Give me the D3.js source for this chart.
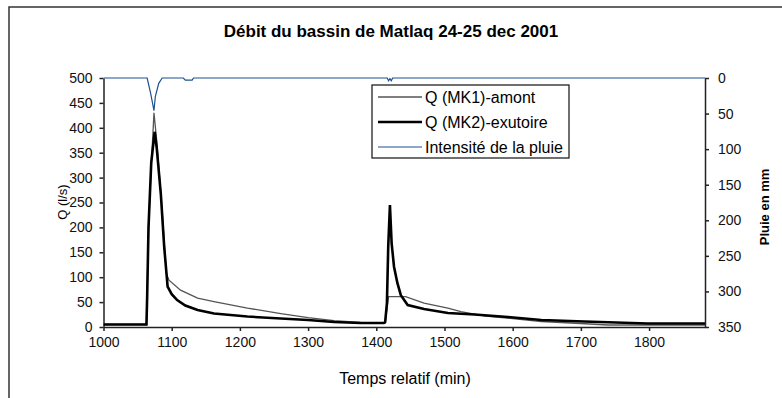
<!DOCTYPE html>
<html><head><meta charset="utf-8">
<script src="https://cdn.jsdelivr.net/npm/d3@7"></script>
<style>body{margin:0;background:#fff;}svg{display:block;font-family:"Liberation Sans",Arial,sans-serif;}</style>
</head><body><svg id="c" width="782" height="398"></svg>
<script>
const title = "Débit du bassin de Matlaq 24-25 dec 2001";
const xTicks = [1000,1100,1200,1300,1400,1500,1600,1700,1800];
const yLeftTicks = [0,50,100,150,200,250,300,350,400,450,500];
const yRightTicks = [0,50,100,150,200,250,300,350];
const seriesNames = ["Q (MK1)-amont","Q (MK2)-exutoire","Intensité de la pluie"];

const mk1Time = [1000,1063,1066,1070,1074,1078,1086,1092,1096,1113,1138,1162,1211,1260,1300,1338,1377,1411,1413,1418,1443,1470,1505,1524,1560,1600,1642,1700,1740,1800,1882];
const mk1Q    = [5,5,201,322,430,375,235,108,94,74,58,51,38,27,19,13,9,8,8,61,61,48,38,31,22,17,11,7,4,4,4];

const mk2Time = [1000,1063,1064,1066,1070,1075,1078,1084,1089,1094,1100,1108,1120,1138,1162,1211,1260,1300,1338,1377,1411,1413,1415.6,1417.5,1420,1422.5,1426,1431,1436,1446,1470,1505,1544,1593,1642,1705,1798,1882];
const mk2Q    = [5,5,60,200,330,392,360,268,161,81,66,54,43,34,27,21,17,14,10,8,8,10,48,161,245,168,121,88,64,44,36,28,25,20,14,11,7,7];

const rainTime = [1000,1064,1069,1074,1076,1081,1086,1117,1120,1130,1132,1416,1418,1420,1422,1424,1882];
const rainMm   = [0,0,21,46,26,7.5,0,0,3,3,0,0,4,1,4,0,0];

const svg = d3.select("#c");
const L=103.5, R=705, T=78, B=327;
const x = d3.scaleLinear().domain([1000,1882]).range([L,R]);
const yL = d3.scaleLinear().domain([0,500]).range([B,T]);
const yR = d3.scaleLinear().domain([0,350]).range([T,B]);

// outer frame
svg.append("rect").attr("x",9).attr("y",7).attr("width",800).attr("height",420)
  .attr("fill","none").attr("stroke","#333").attr("stroke-width",1.5);

svg.append("text").attr("x",391).attr("y",37).attr("text-anchor","middle")
  .attr("font-size",17).attr("font-weight","bold").text(title);

const axisStyle = g => {
  g.selectAll("path,line").attr("stroke","#222").attr("stroke-width",1.5);
  g.selectAll("text").attr("font-size",14).attr("fill","#111").attr("font-family","Liberation Sans, Arial, sans-serif");
};
const fmt = d3.format("d");
svg.append("g").attr("transform",`translate(0,${B})`)
  .call(d3.axisBottom(x).tickValues(xTicks).tickFormat(fmt).tickSize(4).tickSizeOuter(0).tickPadding(6)).call(axisStyle);
svg.append("g").attr("transform",`translate(${L},0)`)
  .call(d3.axisLeft(yL).tickValues(yLeftTicks).tickFormat(fmt).tickSize(4).tickSizeOuter(0).tickPadding(7)).call(axisStyle);
svg.append("g").attr("transform",`translate(${R},0)`)
  .call(d3.axisRight(yR).tickValues(yRightTicks).tickFormat(fmt).tickSize(4).tickSizeOuter(0).tickPadding(9)).call(axisStyle);

svg.append("defs").append("clipPath").attr("id","pc").append("rect")
  .attr("x",L).attr("y",T-2).attr("width",R-L).attr("height",B-T+4);
const plot = svg.append("g").attr("clip-path","url(#pc)");

const line = (ts,vs,ys) => d3.line().x((d,i)=>x(ts[i])).y((d,i)=>ys(vs[i]))(vs);

plot.append("path").attr("d",line(rainTime,rainMm,yR)).attr("fill","none").attr("stroke","#1f4f8f").attr("stroke-width",1.2);
plot.append("path").attr("d",line(mk1Time,mk1Q,yL)).attr("fill","none").attr("stroke","#555").attr("stroke-width",1.3);
plot.append("path").attr("d",line(mk2Time,mk2Q,yL)).attr("fill","none").attr("stroke","#000").attr("stroke-width",2.6);

// axis labels
svg.append("text").attr("transform","translate(67,202) rotate(-90)").attr("text-anchor","middle")
  .attr("font-size",13).text("Q (l/s)");
svg.append("text").attr("transform","translate(769,207) rotate(-90)").attr("text-anchor","middle")
  .attr("font-size",13).attr("font-weight","bold").text("Pluie en mm");
svg.append("text").attr("x",405).attr("y",384).attr("text-anchor","middle")
  .attr("font-size",16).text("Temps relatif (min)");

// legend
const lg = svg.append("g");
lg.append("rect").attr("x",372).attr("y",85).attr("width",197).attr("height",73)
  .attr("fill","#fff").attr("stroke","#222").attr("stroke-width",1.3);
const lgStroke = ["#555","#000","#1f4f8f"], lgW=[1.3,2.6,1.2], lgY=[97,122,147];
seriesNames.forEach((n,i)=>{
  lg.append("line").attr("x1",378).attr("x2",422).attr("y1",lgY[i]).attr("y2",lgY[i])
    .attr("stroke",lgStroke[i]).attr("stroke-width",lgW[i]);
  lg.append("text").attr("x",425).attr("y",lgY[i]+5.5).attr("font-size",16).text(n);
});
</script></body></html>
